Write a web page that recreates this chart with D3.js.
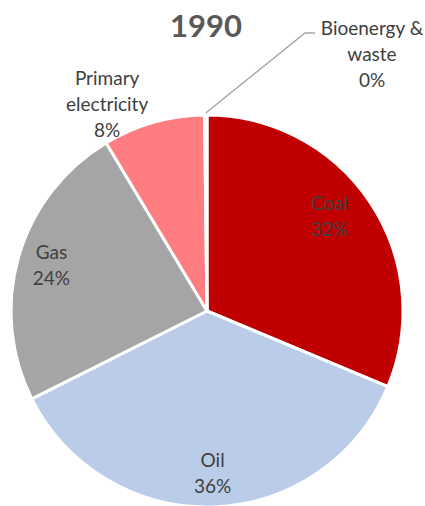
<!DOCTYPE html>
<html>
<head>
<meta charset="utf-8">
<script src="https://cdn.jsdelivr.net/npm/d3@7"></script>
<style>
  body { margin: 0; background: #fff; }
  text { font-family: Lato, "Open Sans", sans-serif; }
</style>
</head>
<body>
<svg id="chart"></svg>
<script>
const width = 425;
const height = 506;
const radius = 196;
const cx = 207, cy = 311;

// 1990 energy mix (share %)
const categories = ["Coal", "Oil", "Gas", "Primary electricity", "Bioenergy & waste"];
const shares = [31.3, 36.3, 23.8, 8.4, 0.2];
const shownPct = ["32%", "36%", "24%", "8%", "0%"];
const labelLines = [["Coal"], ["Oil"], ["Gas"], ["Primary", "electricity"], ["Bioenergy &", "waste"]];
const colors = ["#C00000", "#BBCCE8", "#A5A5A5", "#FF7C80", "#7F7F7F"];
const title = "1990";

const data = categories.map((c, i) => ({name: c, value: shares[i], pct: shownPct[i], lines: labelLines[i]}));

const svg = d3.select("#chart")
    .attr("width", width)
    .attr("height", height);

svg.append("text")
    .attr("x", 206)
    .attr("y", 37)
    .attr("text-anchor", "middle")
    .attr("font-size", 31)
    .attr("font-weight", "bold")
    .attr("fill", "#595959")
    .text(title);

const g = svg.append("g")
    .attr("transform", "translate(" + cx + "," + cy + ")");

const pie = d3.pie()
    .sort(null)
    .value(d => d.value);

const arc = d3.arc()
    .outerRadius(radius)
    .innerRadius(0);

const outArc = d3.arc().outerRadius(215).innerRadius(215);
const edgeArc = d3.arc().outerRadius(radius + 2).innerRadius(radius + 2);

const arcs = pie(data);

g.selectAll(".slice")
    .data(arcs)
  .enter().append("path")
    .attr("class", "slice")
    .attr("d", arc)
    .attr("fill", (d, i) => colors[i])
    .attr("stroke", "#fff")
    .attr("stroke-width", 3)
    .attr("stroke-linejoin", "round");

const lineH = 26;
const fontSize = 19;

function drawLabel(parent, d) {
  const lines = d.data.lines.concat([d.data.pct]);
  const t = parent.append("text")
      .attr("text-anchor", "middle")
      .attr("font-size", fontSize)
      .attr("fill", "#404040");
  lines.forEach((l, i) => {
    t.append("tspan")
        .attr("x", 0)
        .attr("y", (i - (lines.length - 1) / 2) * lineH)
        .attr("dy", "0.35em")
        .text(l);
  });
  return t;
}

// labels inside the big slices (coal label sits a little towards the top in the original)
const innerNudge = [-0.07, 0, 0];
const innerR = [155, 162, 162];
arcs.slice(0, 3).forEach((d, i) => {
  const a = (d.startAngle + d.endAngle) / 2 + innerNudge[i];
  const p = [Math.sin(a) * innerR[i], -Math.cos(a) * innerR[i]];
  const lg = g.append("g").attr("transform", "translate(" + p + ")");
  drawLabel(lg, d);
});

// primary electricity label outside, right edge at the anchor point
{
  const d = arcs[3];
  const p = outArc.centroid(d);
  const lg = g.append("g");
  const t = drawLabel(lg, d);
  const w = t.node().getBBox().width;
  lg.attr("transform", "translate(" + (p[0] - w / 2) + "," + p[1] + ")");
}

// bioenergy label with leader line
{
  const d = arcs[4];
  const p = edgeArc.centroid(d);
  const labelAt = [372 - cx, 54 - cy];
  const elbow = [305 - cx, 33 - cy];
  g.append("polyline")
      .attr("points", [p, elbow, [elbow[0] + 10, elbow[1]]].map(q => q.join(",")).join(" "))
      .attr("fill", "none")
      .attr("stroke", "#A6A6A6")
      .attr("stroke-width", 1.5);
  const lg = g.append("g").attr("transform", "translate(" + labelAt + ")");
  drawLabel(lg, d);
}
</script>
</body>
</html>
